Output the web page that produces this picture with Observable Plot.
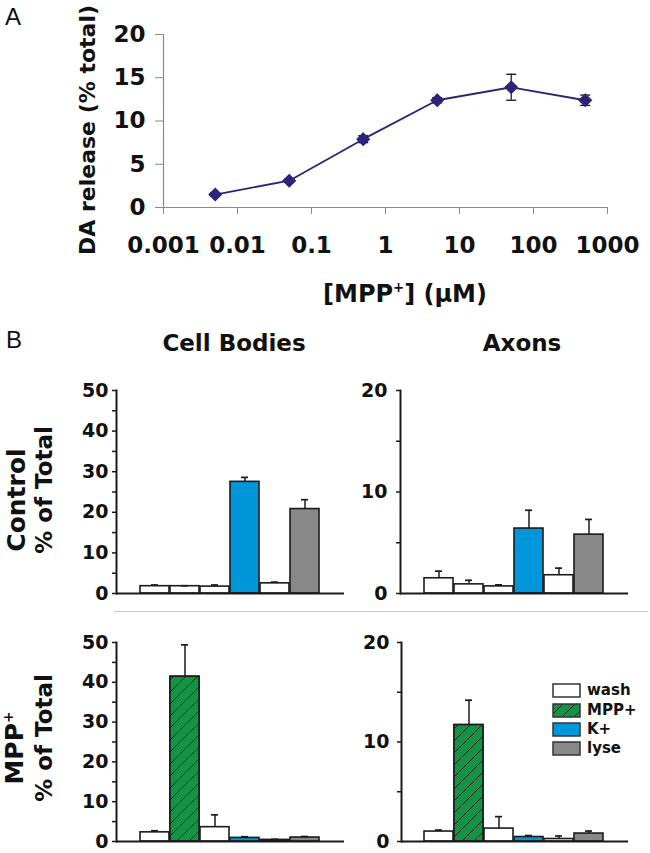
<!DOCTYPE html>
<html><head><meta charset="utf-8">
<script src="https://cdn.jsdelivr.net/npm/d3@7"></script>
<script src="https://cdn.jsdelivr.net/npm/@observablehq/plot@0.6"></script>
<style>
body{margin:0;background:#fff;font-family:"DejaVu Sans",sans-serif;}
#root{position:relative;width:650px;height:853px;overflow:hidden;background:#fff;}
.abs{position:absolute;}
.lbl{position:absolute;white-space:nowrap;color:#111;line-height:1;}
</style></head><body><div id="root"></div>
<script>
// ---------- Panel A data ----------
const concA = [0.005, 0.05, 0.5, 5, 50, 500];
const releaseA = [1.5, 3.1, 7.9, 12.4, 13.9, 12.4];
const semA = [0.2, 0.2, 0.4, 0.3, 1.5, 0.6];
const xTicksA = [0.001, 0.01, 0.1, 1, 10, 100, 1000];
const xTickLabelsA = ["0.001", "0.01", "0.1", "1", "10", "100", "1000"];
const yTicksA = [0, 5, 10, 15, 20];

// ---------- Panel B data ----------
const treatments = ["wash", "MPP+", "K+", "lyse"];
const treatmentColors = ["#ffffff", "#169245", "#0096da", "#888888"];
const barOrderControl = ["wash", "wash", "wash", "K+", "wash", "lyse"];
const barOrderMPP = ["wash", "MPP+", "wash", "K+", "wash", "lyse"];
const ctrlCellMean = [1.8, 1.8, 1.7, 27.5, 2.5, 20.8];
const ctrlCellErr  = [0.3, 0.1, 0.4, 1.1, 0.3, 2.3];
const ctrlAxonMean = [1.5, 0.9, 0.7, 6.4, 1.8, 5.8];
const ctrlAxonErr  = [0.7, 0.4, 0.15, 1.8, 0.7, 1.5];
const mppCellMean  = [2.3, 41.4, 3.6, 0.9, 0.4, 1.0];
const mppCellErr   = [0.4, 8.0, 3.1, 0.3, 0.15, 0.25];
const mppAxonMean  = [1.0, 11.7, 1.3, 0.45, 0.25, 0.8];
const mppAxonErr   = [0.15, 2.5, 1.2, 0.15, 0.3, 0.25];
const cellTicks = [0, 5, 10, 15, 20, 25, 30, 35, 40, 45, 50];
const cellTickLabels = [0, 10, 20, 30, 40, 50];
const axonTicks = [0, 5, 10, 15, 20];
const axonTickLabels = [0, 10, 20];

const INK = "#1b1b1b";
const NAVY = "#2d2478";
const GREEN = treatmentColors[1];

const root = document.getElementById("root");
function place(node, left, top) {
  const d = document.createElement("div");
  d.className = "abs";
  d.style.left = left + "px"; d.style.top = top + "px";
  d.appendChild(node);
  root.appendChild(d);
}
function label(html, cx, cy, size, opts = {}) {
  const d = document.createElement("div");
  d.className = "lbl";
  d.innerHTML = html;
  d.style.left = cx + "px"; d.style.top = cy + "px";
  d.style.fontSize = size + "px";
  d.style.fontWeight = opts.weight || "bold";
  d.style.fontFamily = opts.family || "'DejaVu Sans', sans-serif";
  d.style.transform = "translate(-50%,-50%)" + (opts.rotate ? " rotate(-90deg)" : "");
  root.appendChild(d);
}
function hatchDefs(id) {
  return () => {
    const defs = d3.create("svg:defs");
    const p = defs.append("pattern").attr("id", id).attr("patternUnits", "userSpaceOnUse")
      .attr("width", 12).attr("height", 12);
    p.append("rect").attr("width", 12).attr("height", 12).attr("fill", GREEN);
    p.append("path").attr("d", "M-3,3 L3,-3 M0,12 L12,0 M9,15 L15,9")
      .attr("stroke", "#111").attr("stroke-width", 0.8).attr("fill", "none");
    return defs.node();
  };
}
const capSymbol = {draw(ctx, size) { const w = Math.sqrt(size); ctx.moveTo(-w, 0); ctx.lineTo(w, 0); }};

// ---------- Panel A ----------
const rowsA = concA.map((c, i) => ({c, v: releaseA[i], e: semA[i]}));
const plotA = Plot.plot({
  width: 650, height: 270,
  marginLeft: 163, marginRight: 43, marginTop: 34, marginBottom: 63,
  x: {type: "log", domain: [0.001, 1000]},
  y: {domain: [0, 20]},
  style: {fontFamily: "'DejaVu Sans', sans-serif", fontWeight: "bold", fontSize: "23px", color: "#111", background: "transparent", overflow: "visible"},
  marks: [
    Plot.ruleY([0], {stroke: "#8a8a8a", strokeWidth: 1.2}),
    Plot.ruleX([0.001], {stroke: "#8a8a8a", strokeWidth: 1.2}),
    Plot.axisY({ticks: yTicksA, tickSize: 8, tickPadding: 10, stroke: "#8a8a8a", label: null}),
    Plot.axisX({ticks: xTicksA, tickFormat: d => xTickLabelsA[xTicksA.indexOf(d)], tickSize: 7, tickPadding: 22, stroke: "#8a8a8a", label: null}),
    Plot.ruleX(rowsA, {x: "c", y1: d => d.v - d.e, y2: d => d.v + d.e, stroke: "#111", strokeWidth: 1.2}),
    Plot.dot(rowsA, {x: "c", y: d => d.v + d.e, symbol: capSymbol, r: 2.8, stroke: "#111", strokeWidth: 1.3, fill: "none"}),
    Plot.dot(rowsA, {x: "c", y: d => d.v - d.e, symbol: capSymbol, r: 2.8, stroke: "#111", strokeWidth: 1.3, fill: "none"}),
    Plot.line(rowsA, {x: "c", y: "v", stroke: NAVY, strokeWidth: 1.8}),
    Plot.dot(rowsA, {x: "c", y: "v", symbol: "diamond2", r: 5.4, fill: NAVY, stroke: NAVY})
  ]
});
place(plotA, 0, 0);

// ---------- Panel B ----------
function barPlot(cfg) {
  const rows = cfg.means.map((m, i) => ({i, t: cfg.order[i], m, e: cfg.errs[i]}));
  return Plot.plot({
    width: cfg.width, height: cfg.height,
    marginLeft: cfg.ml, marginRight: cfg.mr, marginTop: cfg.mt, marginBottom: cfg.mb,
    x: {type: "band", domain: rows.map(d => d.i), range: cfg.xRange, padding: 0.05, axis: null},
    y: {domain: [0, cfg.yMax]},
    color: {domain: treatments, range: treatmentColors},
    style: {fontFamily: "'DejaVu Sans', sans-serif", fontWeight: "bold", fontSize: "19px", color: "#111", background: "transparent", overflow: "visible"},
    marks: [
      hatchDefs(cfg.id),
      Plot.barY(rows, {x: "i", y: "m", fill: "t", stroke: INK, strokeWidth: 1.6}),
      Plot.barY(rows.filter(d => d.t === "MPP+"), {x: "i", y: "m", fill: `url(#${cfg.id})`, stroke: INK, strokeWidth: 1.6}),
      Plot.ruleX(rows, {x: "i", y1: "m", y2: d => d.m + d.e, stroke: INK, strokeWidth: 1.5}),
      Plot.tickY(rows, {x: "i", y: d => d.m + d.e, stroke: INK, strokeWidth: 1.7, insetLeft: 11, insetRight: 11}),
      Plot.ruleY([0], {stroke: INK, strokeWidth: 2}),
      Plot.frame({anchor: "left", stroke: INK, strokeWidth: 2}),
      Plot.axisY({ticks: cfg.ticks, tickFormat: d => cfg.labels.includes(d) ? String(d) : "", tickSize: 4, tickPadding: cfg.pad, stroke: INK, strokeWidth: 1.5, label: null})
    ]
  });
}

place(barPlot({id: "h1", means: ctrlCellMean, errs: ctrlCellErr, order: barOrderControl, yMax: 50, ticks: cellTicks, labels: cellTickLabels,
  width: 345, height: 235, ml: 116, mr: 1, mt: 20, mb: 12, xRange: [138, 321], pad: 4}), 0, 370);
place(barPlot({id: "h2", means: ctrlAxonMean, errs: ctrlAxonErr, order: barOrderControl, yMax: 20, ticks: axonTicks, labels: axonTickLabels,
  width: 290, height: 235, ml: 55, mr: 7, mt: 20, mb: 12, xRange: [77, 260], pad: 9}), 345, 370);
place(barPlot({id: "h3", means: mppCellMean, errs: mppCellErr, order: barOrderMPP, yMax: 50, ticks: cellTicks, labels: cellTickLabels,
  width: 345, height: 231, ml: 116, mr: 1, mt: 20, mb: 12, xRange: [138, 321], pad: 4}), 0, 622);
place(barPlot({id: "h4", means: mppAxonMean, errs: mppAxonErr, order: barOrderMPP, yMax: 20, ticks: axonTicks, labels: axonTickLabels,
  width: 290, height: 231, ml: 56, mr: 7, mt: 20, mb: 12, xRange: [77, 260], pad: 8}), 345, 622);

// separator line
const sep = document.createElement("div");
sep.className = "abs";
sep.style.cssText = "left:114px;top:611px;width:534px;height:0;border-top:1.5px solid #c8c8c8;";
root.appendChild(sep);

// legend
const legend = document.createElement("div");
legend.className = "abs";
legend.style.left = "552px"; legend.style.top = "681px";
treatments.forEach((t, k) => {
  const row = document.createElement("div");
  row.style.cssText = "display:flex;align-items:center;height:19.4px;";
  const defs = k === 1 ? `<defs><pattern id="hl" patternUnits="userSpaceOnUse" width="12" height="12"><rect width="12" height="12" fill="${GREEN}"/><path d="M-3,3 L3,-3 M0,12 L12,0 M9,15 L15,9" stroke="#111" stroke-width="0.8"/></pattern></defs>` : "";
  const fill = k === 1 ? "url(#hl)" : treatmentColors[k];
  row.innerHTML = `<svg width="30" height="15">${defs}<rect x="1" y="1" width="27" height="13" fill="${fill}" stroke="#333" stroke-width="1.5"/></svg><span style="margin-left:5px;font:bold 15px 'DejaVu Sans',sans-serif;color:#111;line-height:1">${t}</span>`;
  legend.appendChild(row);
});
root.appendChild(legend);

// texts
label("A", 13, 16.5, 24, {weight: "normal", family: "'Liberation Sans', Arial, sans-serif"});
label("B", 14, 339.5, 24, {weight: "normal", family: "'Liberation Sans', Arial, sans-serif"});
label("DA release (% total)", 87.5, 130, 22, {rotate: true});
label("[MPP<span style=\"font-size:0.55em;position:relative;top:-0.75em\">+</span>] (μM)", 405, 294, 24);
label("Cell Bodies", 234, 342.5, 23);
label("Axons", 522, 343, 23);
label("Control", 16, 500, 25, {rotate: true});
label("% of Total", 44, 490, 23, {rotate: true});
label("MPP<span style=\"font-size:0.55em;position:relative;top:-0.75em\">+</span>", 13.5, 748, 25, {rotate: true});
label("% of Total", 43.5, 738, 23, {rotate: true});
</script></body></html>
